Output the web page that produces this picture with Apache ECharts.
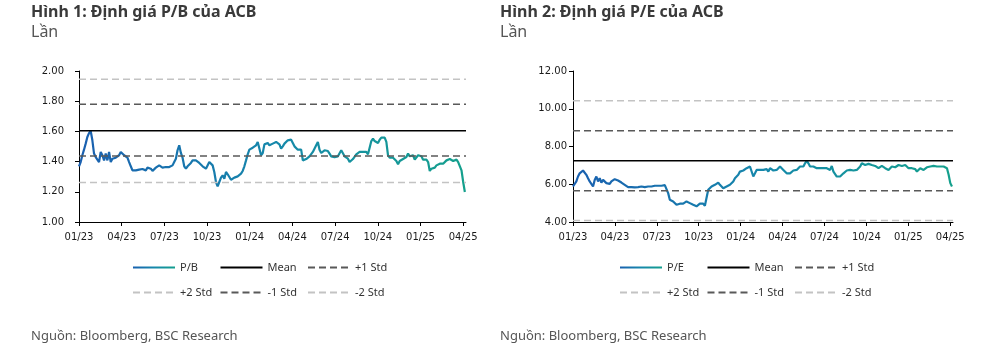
<!DOCTYPE html>
<html>
<head>
<meta charset="utf-8">
<script src="https://cdn.jsdelivr.net/npm/echarts@6/dist/echarts.min.js"></script>
<style>
  html, body { margin: 0; padding: 0; background: #fff; }
  #chart { width: 998px; height: 351px; }
</style>
</head>
<body>
<div id="chart"></div>
<script>
// tick labels (one every 3 months, from 01/23)
var qtrLabels = ['01/23', '04/23', '07/23', '10/23', '01/24', '04/24', '07/24', '10/24', '01/25', '04/25'];

// P/B, read every ~3.5 days from the start of 01/23
var pbStep = 0.1174; // months between points
var pbValues = [
  1.369, 1.397, 1.442, 1.479, 1.519, 1.563, 1.589, 1.603, 1.541, 1.453, 1.430, 1.426,
  1.397, 1.464, 1.442, 1.408, 1.453, 1.408, 1.464, 1.397, 1.419, 1.408, 1.426, 1.430,
  1.442, 1.464, 1.453, 1.442, 1.435, 1.426, 1.397, 1.369, 1.342, 1.347, 1.342, 1.353,
  1.347, 1.360, 1.351, 1.364, 1.342, 1.360, 1.347, 1.353, 1.338, 1.351, 1.360, 1.353,
  1.375, 1.364, 1.360, 1.353, 1.364, 1.369, 1.364, 1.373, 1.375, 1.397, 1.419, 1.475,
  1.508, 1.457, 1.426, 1.369, 1.353, 1.369, 1.382, 1.391, 1.408, 1.419, 1.408, 1.397,
  1.391, 1.382, 1.369, 1.360, 1.353, 1.342, 1.397, 1.408, 1.375, 1.331, 1.265, 1.236,
  1.265, 1.294, 1.309, 1.287, 1.331, 1.316, 1.298, 1.280, 1.287, 1.294, 1.298, 1.302,
  1.309, 1.320, 1.338, 1.369, 1.408, 1.448, 1.479, 1.475, 1.492, 1.486, 1.508, 1.530,
  1.519, 1.442, 1.457, 1.514, 1.508, 1.523, 1.508, 1.501, 1.519, 1.523, 1.530, 1.519,
  1.514, 1.486, 1.501, 1.519, 1.530, 1.541, 1.552, 1.545, 1.523, 1.501, 1.492, 1.479,
  1.470, 1.479, 1.408, 1.404, 1.417, 1.426, 1.435, 1.442, 1.464, 1.470, 1.508, 1.530,
  1.479, 1.457, 1.470, 1.475, 1.464, 1.470, 1.453, 1.435, 1.426, 1.430, 1.442, 1.435,
  1.426, 1.475, 1.470, 1.435, 1.448, 1.419, 1.397, 1.408, 1.417, 1.430, 1.448, 1.457,
  1.464, 1.470, 1.464, 1.475, 1.464, 1.448, 1.492, 1.536, 1.552, 1.536, 1.530, 1.523,
  1.545, 1.559, 1.552, 1.559, 1.530, 1.442, 1.426, 1.413, 1.426, 1.413, 1.404, 1.382,
  1.404, 1.413, 1.417, 1.426, 1.430, 1.453, 1.435, 1.430, 1.442, 1.413, 1.426, 1.442,
  1.453, 1.435, 1.413, 1.408, 1.413, 1.397, 1.338, 1.353, 1.342, 1.360, 1.375, 1.382,
  1.386, 1.391, 1.386, 1.397, 1.408, 1.404, 1.417, 1.430, 1.404, 1.408, 1.413, 1.397,
  1.391, 1.342, 1.265, 1.199
];
// P/B mean and std bands
var pbMean = 1.605, pbPlus1 = 1.78, pbPlus2 = 1.945, pbMinus1 = 1.437, pbMinus2 = 1.261;

// P/E
var peStep = 0.1195;
var peValues = [
  5.88, 5.97, 6.15, 6.41, 6.58, 6.67, 6.73, 6.76, 6.50, 6.32, 6.15, 6.06,
  5.88, 6.23, 6.41, 6.15, 6.32, 6.09, 6.23, 6.15, 6.06, 6.09, 6.02, 6.15,
  6.23, 6.27, 6.32, 6.20, 6.20, 6.09, 6.06, 5.97, 5.92, 5.85, 5.83, 5.85,
  5.86, 5.83, 5.88, 5.85, 5.81, 5.88, 5.79, 5.85, 5.83, 5.88, 5.79, 5.88,
  5.97, 5.92, 5.88, 5.92, 5.88, 5.92, 5.97, 5.95, 5.92, 5.53, 5.18, 5.27,
  5.09, 5.00, 4.91, 4.88, 4.97, 4.91, 4.97, 5.04, 5.09, 5.04, 5.00, 4.97,
  4.91, 4.86, 4.83, 4.90, 4.97, 5.04, 4.97, 4.86, 4.91, 5.71, 5.79, 5.88,
  5.92, 5.97, 6.02, 6.09, 5.97, 5.88, 5.79, 5.83, 5.88, 5.92, 5.97, 6.02,
  6.15, 6.32, 6.41, 6.50, 6.67, 6.76, 6.73, 6.80, 6.85, 6.85, 6.94, 6.90,
  6.41, 6.58, 6.76, 6.80, 6.76, 6.67, 6.76, 6.73, 6.80, 6.67, 6.85, 6.76,
  6.73, 6.80, 6.76, 6.85, 6.94, 6.85, 6.76, 6.67, 6.58, 6.50, 6.58, 6.67,
  6.73, 6.80, 6.76, 6.85, 6.94, 6.97, 6.94, 7.11, 7.25, 7.11, 6.94, 6.97,
  6.94, 6.90, 6.85, 6.90, 6.85, 6.80, 6.85, 6.76, 6.85, 6.80, 6.76, 6.97,
  6.67, 6.58, 6.41, 6.50, 6.41, 6.50, 6.58, 6.62, 6.73, 6.67, 6.76, 6.80,
  6.73, 6.67, 6.76, 6.73, 6.94, 7.11, 7.08, 7.02, 6.97, 7.08, 7.15, 7.02,
  6.94, 6.97, 6.90, 6.85, 6.94, 6.97, 6.90, 6.85, 6.80, 6.76, 6.85, 6.94,
  6.97, 6.90, 6.97, 7.02, 6.94, 6.97, 6.90, 7.02, 6.94, 6.85, 6.80, 6.85,
  6.76, 6.80, 6.67, 6.76, 6.85, 6.80, 6.76, 6.85, 6.90, 6.85, 6.94, 6.90,
  6.97, 7.02, 6.94, 6.97, 6.94, 6.97, 6.94, 6.90, 6.85, 6.50, 6.06, 5.88
];
var peMean = 7.25, pePlus1 = 8.84, pePlus2 = 10.42, peMinus1 = 5.65, peMinus2 = 4.08;

var xMax = 27.2;

init();

function init() {
  var chart = echarts.init(document.getElementById('chart'));

  var lineGrad = new echarts.graphic.LinearGradient(0, 0, 1, 0, [
    { offset: 0, color: '#1a5fb0' },
    { offset: 0.5, color: '#1688ab' },
    { offset: 1, color: '#14a08c' }
  ]);
  var darkDash = '#595959', lightDash = '#c3c3c3';

  function toPoints(vals, step) {
    return vals.map(function (v, i) { return [i * step, v]; });
  }
  function flat(v) { return [[0, v], [xMax, v]]; }

  function bandSeries(idx, name, v, color, dashed) {
    return {
      name: name, type: 'line', xAxisIndex: idx, yAxisIndex: idx,
      data: flat(v), symbol: 'none', silent: true,
      itemStyle: { color: 'transparent' },
      lineStyle: { color: color, width: 1.5, type: dashed ? [7, 4] : 'solid' }
    };
  }

  function xAxisFor(idx) {
    return {
      type: 'value', gridIndex: idx, min: 0, max: xMax, interval: 3,
      axisLine: { lineStyle: { color: '#000', width: 1 } },
      axisTick: { show: true, length: 4, lineStyle: { color: '#000' } },
      splitLine: { show: false },
      axisLabel: {
        color: '#1a1a1a', fontFamily: 'DejaVu Sans', fontSize: 10, margin: 10,
        showMaxLabel: false,
        formatter: function (m) { return qtrLabels[Math.round(m / 3)] || ''; }
      }
    };
  }

  function yAxisFor(idx, min, max, interval, margin) {
    return {
      type: 'value', gridIndex: idx, min: min, max: max, interval: interval,
      axisLine: { show: true, lineStyle: { color: '#000', width: 1 } },
      axisTick: { show: true, length: 4, lineStyle: { color: '#000' } },
      splitLine: { show: false },
      axisLabel: {
        color: '#1a1a1a', fontFamily: 'DejaVu Sans', fontSize: 10, margin: margin,
        formatter: function (v) { return v.toFixed(2); }
      }
    };
  }

  // one legend per item, so the columns line up as in the reference
  function legendItem(left, top, name) {
    return {
      left: left, top: top, padding: 0,
      itemWidth: 42, itemHeight: 14, itemGap: 0,
      selectedMode: false,
      data: [name],
      itemStyle: { opacity: 0, borderWidth: 0 },
      textStyle: { color: '#333', fontFamily: 'Noto Sans', fontSize: 11 }
    };
  }
  function legendBlock(left, names) {
    var cols = [0, 87.5, 175];
    var rows = [262, 287];
    var out = [];
    names.forEach(function (n, i) {
      out.push(legendItem(left + cols[i % 3], rows[Math.floor(i / 3)], n));
    });
    return out;
  }

  function titleFor(left, text) {
    return {
      left: left, top: 3, padding: 0, itemGap: 2,
      text: text, subtext: 'Lần',
      textStyle: { color: '#3a3a3a', fontFamily: 'Noto Sans', fontSize: 16, fontWeight: 'bold', lineHeight: 18 },
      subtextStyle: { color: '#555', fontFamily: 'Noto Sans', fontSize: 16, lineHeight: 18 }
    };
  }

  function sourceFor(left) {
    return {
      left: left, top: 327, padding: 0,
      text: 'Nguồn: Bloomberg, BSC Research',
      textStyle: { color: '#555', fontFamily: 'Noto Sans', fontSize: 13, fontWeight: 'normal', lineHeight: 18 }
    };
  }

  chart.setOption({
    animation: false,
    backgroundColor: '#fff',
    title: [
      titleFor(31, 'Hình 1: Định giá P/B của ACB'),
      titleFor(500, 'Hình 2: Định giá P/E của ACB'),
      sourceFor(31),
      sourceFor(500)
    ],
    legend: legendBlock(132, ['P/B', 'Mean', '+1 Std', '+2 Std', '-1 Std', '-2 Std'])
      .concat(legendBlock(619, ['P/E', 'Mean', '+1 Std', '+2 Std', '-1 Std', '-2 Std'])),
    grid: [
      { left: 79, top: 71, width: 387, height: 151, outerBoundsMode: 'none' },
      { left: 573, top: 71, width: 380, height: 151, outerBoundsMode: 'none' }
    ],
    xAxis: [xAxisFor(0), xAxisFor(1)],
    yAxis: [yAxisFor(0, 1, 2, 0.2, 15), yAxisFor(1, 4, 12, 2, 6)],
    series: [
      {
        name: 'P/B', type: 'line', xAxisIndex: 0, yAxisIndex: 0,
        data: toPoints(pbValues, pbStep), symbol: 'none',
        itemStyle: { color: 'transparent' },
        lineStyle: { color: lineGrad, width: 2.2 }
      },
      bandSeries(0, 'Mean', pbMean, '#000', false),
      bandSeries(0, '+1 Std', pbPlus1, darkDash, true),
      bandSeries(0, '+2 Std', pbPlus2, lightDash, true),
      bandSeries(0, '-1 Std', pbMinus1, darkDash, true),
      bandSeries(0, '-2 Std', pbMinus2, lightDash, true),
      {
        name: 'P/E', type: 'line', xAxisIndex: 1, yAxisIndex: 1,
        data: toPoints(peValues, peStep), symbol: 'none',
        itemStyle: { color: 'transparent' },
        lineStyle: { color: lineGrad, width: 2.2 }
      },
      bandSeries(1, 'Mean', peMean, '#000', false),
      bandSeries(1, '+1 Std', pePlus1, darkDash, true),
      bandSeries(1, '+2 Std', pePlus2, lightDash, true),
      bandSeries(1, '-1 Std', peMinus1, darkDash, true),
      bandSeries(1, '-2 Std', peMinus2, lightDash, true)
    ]
  });
}
</script>
</body>
</html>
